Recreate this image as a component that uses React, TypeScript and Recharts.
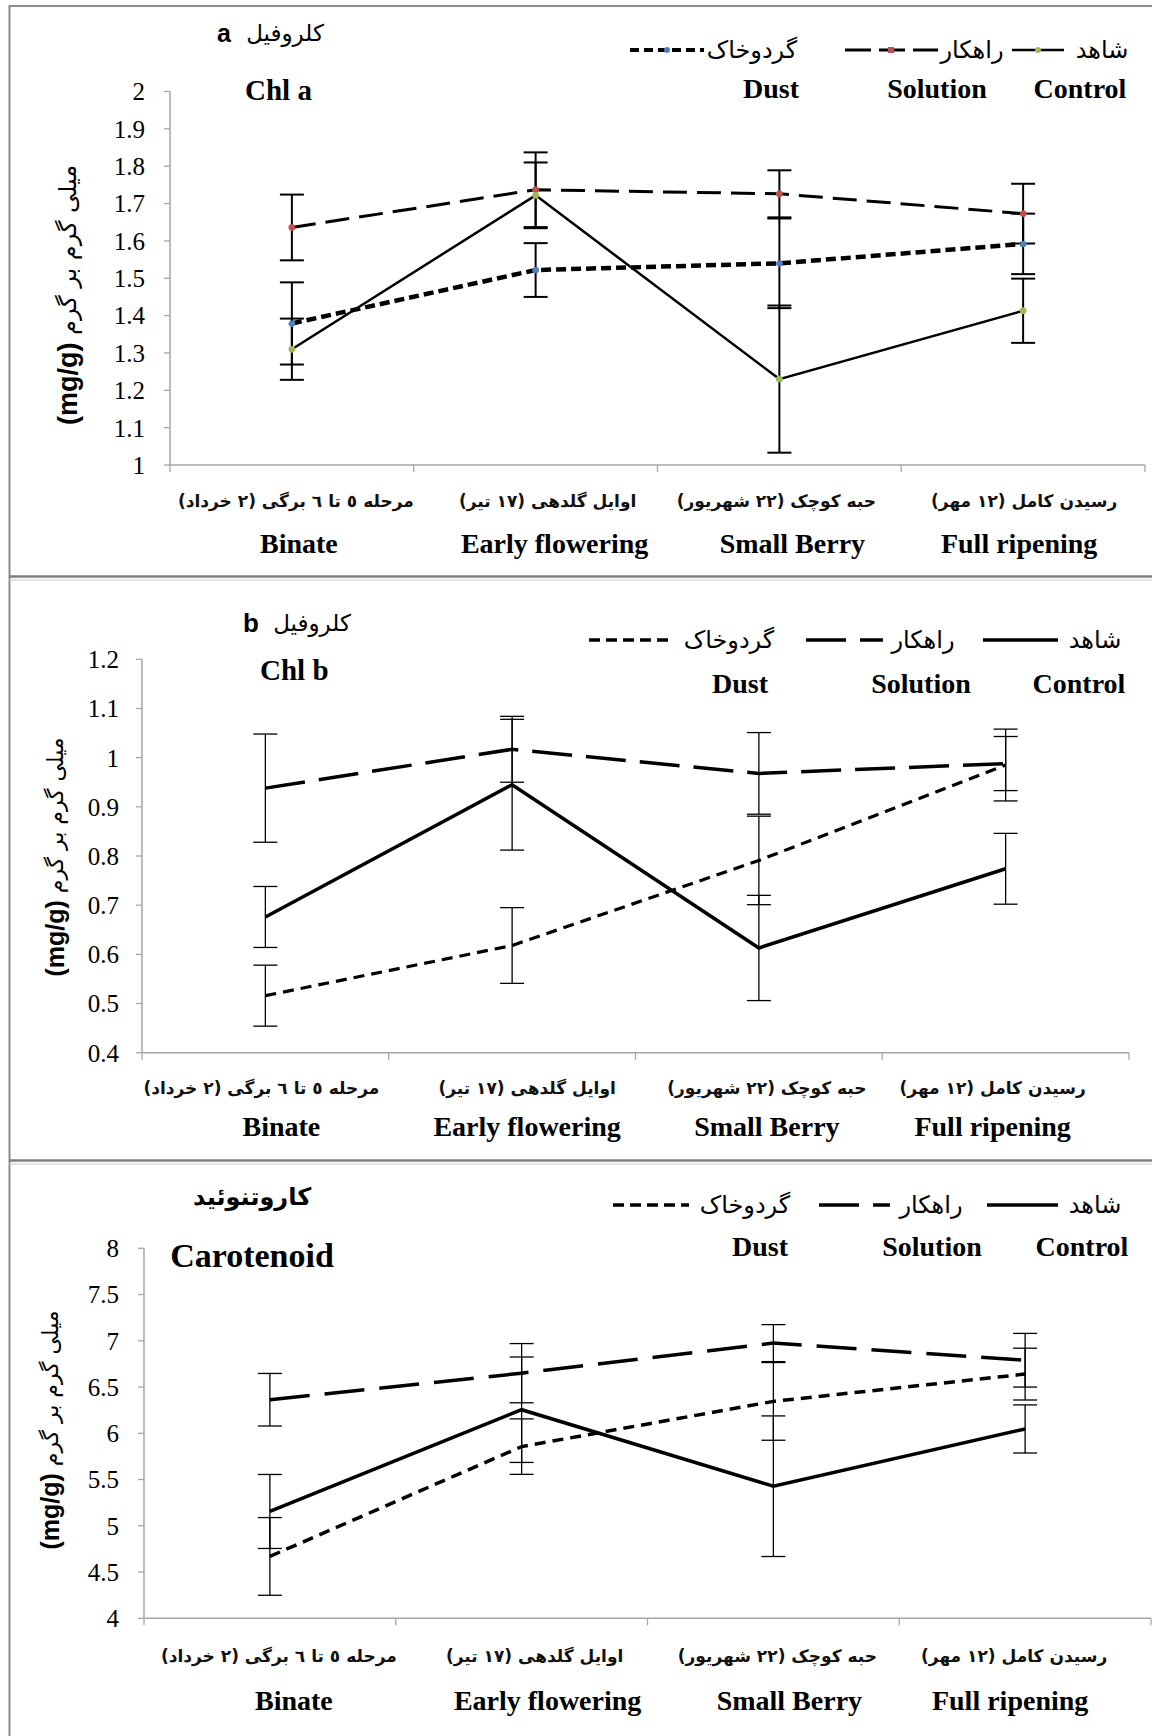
"use client";
import React from "react";
import { LineChart, Line, XAxis, YAxis, ErrorBar } from "recharts";

const stagesEn = ["Binate", "Early flowering", "Small Berry", "Full ripening"];
const stagesFa = [
  "مرحله ٥ تا ٦ برگی (٢ خرداد)",
  "اوایل گلدهی (١٧ تیر)",
  "حبه کوچک (٢٢ شهریور)",
  "رسیدن کامل (١٢ مهر)",
];

// Chl a (mg/g)
const chlAControl = [1.31, 1.722, 1.23, 1.413];
const chlAControlErr = [0.082, 0.088, 0.197, 0.086];
const chlASolution = [1.636, 1.737, 1.726, 1.673];
const chlASolutionErr = [0.088, 0.1, 0.063, 0.08];
const chlADust = [1.379, 1.522, 1.54, 1.592];
const chlADustErr = [0.11, 0.072, 0.12, 0.081];
const chlATicks = [1, 1.1, 1.2, 1.3, 1.4, 1.5, 1.6, 1.7, 1.8, 1.9, 2];

// Chl b (mg/g)
const chlBControl = [0.676, 0.945, 0.613, 0.774];
const chlBControlErr = [0.062, 0.133, 0.107, 0.072];
const chlBSolution = [0.938, 1.017, 0.968, 0.988];
const chlBSolutionErr = [0.11, 0.067, 0.083, 0.055];
const chlBDust = [0.516, 0.618, 0.791, 0.985];
const chlBDustErr = [0.062, 0.077, 0.09, 0.073];
const chlBTicks = [0.4, 0.5, 0.6, 0.7, 0.8, 0.9, 1, 1.1, 1.2];

// Carotenoid (mg/g)
const carControl = [5.155, 6.255, 5.428, 6.047];
const carControlErr = [0.4, 0.57, 0.76, 0.26];
const carSolution = [6.363, 6.65, 6.975, 6.79];
const carSolutionErr = [0.284, 0.32, 0.2, 0.29];
const carDust = [4.669, 5.856, 6.345, 6.64];
const carDustErr = [0.42, 0.3, 0.42, 0.28];
const carTicks = [4, 4.5, 5, 5.5, 6, 6.5, 7, 7.5, 8];

const legendFa = ["شاهد", "راهکار", "گردوخاک"];
const legendEn = ["Control", "Solution", "Dust"];
const yTitleFa = "میلی گرم بر گرم ";

const SERIF = "'Liberation Serif', 'Times New Roman', serif";
const FA = "'DejaVu Sans', sans-serif";
const SANS = "'Liberation Sans', Arial, sans-serif";
const AXIS = "#a6a6a6";
const GREEN = "#9bbb59";
const RED = "#c0504d";
const BLUE = "#4f81bd";

const makeRows = (c: number[], ce: number[], s: number[], se: number[], d: number[], de: number[]) =>
  stagesEn.map((stage, i) => ({
    stage,
    control: c[i],
    controlErr: ce[i],
    solution: s[i],
    solutionErr: se[i],
    dust: d[i],
    dustErr: de[i],
  }));

const rowsA = makeRows(chlAControl, chlAControlErr, chlASolution, chlASolutionErr, chlADust, chlADustErr);
const rowsB = makeRows(chlBControl, chlBControlErr, chlBSolution, chlBSolutionErr, chlBDust, chlBDustErr);
const rowsC = makeRows(carControl, carControlErr, carSolution, carSolutionErr, carDust, carDustErr);

// labels in the source sit a little off the band centres
const makeXTick = (band: number, faDy: number, enDy: number, faDx: number[], enDx: number[]) => (props: any) => {
  const { x, y, payload } = props;
  const i = stagesEn.indexOf(payload.value);
  return (
    <g>
      <line x1={x - band / 2} x2={x - band / 2} y1={y} y2={y + 7} stroke={AXIS} strokeWidth={1.3} />
      {i === stagesEn.length - 1 && (
        <line x1={x + band / 2} x2={x + band / 2} y1={y} y2={y + 7} stroke={AXIS} strokeWidth={1.3} />
      )}
      <text
        x={x + faDx[i]}
        y={y + faDy}
        textAnchor="middle"
        dominantBaseline="central"
        style={{ direction: "rtl" }}
        fontFamily={FA}
        fontWeight="bold"
        fontSize={17}
        fill="#111"
      >
        {stagesFa[i]}
      </text>
      <text
        x={x + enDx[i]}
        y={y + enDy}
        textAnchor="middle"
        dominantBaseline="central"
        fontFamily={SERIF}
        fontWeight="bold"
        fontSize={28}
        fill="#000"
      >
        {payload.value}
      </text>
    </g>
  );
};

type Style = {
  control: number;
  solution: number;
  dust: number;
  solutionDash: string;
  dustDash: string;
  err: number;
};

type PanelProps = {
  top: number;
  height: number;
  rows: any[];
  left: number;
  right: number;
  plotTop: number;
  plotBottom: number;
  domain: [number, number];
  ticks: number[];
  tickGap: number;
  faDy: number;
  enDy: number;
  faDx: number[];
  enDx: number[];
  markers: boolean;
  st: Style;
  children?: React.ReactNode;
};

const Panel = (p: PanelProps) => {
  const W = 1152;
  const band = (p.right - p.left) / stagesEn.length;
  const xH = 100;
  const dot = (c: string) => (p.markers ? { r: 3, fill: c, stroke: c, strokeWidth: 1 } : false);
  return (
    <div style={{ position: "absolute", left: 0, top: p.top, width: W, height: p.height }}>
      <LineChart
        width={W}
        height={p.height}
        data={p.rows}
        margin={{ top: p.plotTop, right: W - p.right, left: 0, bottom: p.height - p.plotBottom - xH }}
      >
        <XAxis
          dataKey="stage"
          scale="band"
          interval={0}
          height={xH}
          tickLine={false}
          tickSize={0}
          tickMargin={0}
          axisLine={{ stroke: AXIS, strokeWidth: 1.5 }}
          tick={makeXTick(band, p.faDy, p.enDy, p.faDx, p.enDx)}
        />
        <YAxis
          width={p.left}
          domain={p.domain}
          ticks={p.ticks}
          interval={0}
          tickSize={6}
          tickMargin={p.tickGap}
          tickFormatter={(v: number) => String(v)}
          axisLine={{ stroke: AXIS, strokeWidth: 1.5 }}
          tickLine={{ stroke: AXIS, strokeWidth: 1.3 }}
          tick={{ fontFamily: SERIF, fontSize: 25, fill: "#000" }}
        />
        <Line
          dataKey="dust"
          type="linear"
          stroke="#000"
          strokeWidth={p.st.dust}
          strokeDasharray={p.st.dustDash}
          dot={dot(BLUE)}
          activeDot={false}
          isAnimationActive={false}
        >
          <ErrorBar dataKey="dustErr" width={12} stroke="#000" strokeWidth={p.st.err} direction="y" isAnimationActive={false} />
        </Line>
        <Line
          dataKey="solution"
          type="linear"
          stroke="#000"
          strokeWidth={p.st.solution}
          strokeDasharray={p.st.solutionDash}
          dot={dot(RED)}
          activeDot={false}
          isAnimationActive={false}
        >
          <ErrorBar dataKey="solutionErr" width={12} stroke="#000" strokeWidth={p.st.err} direction="y" isAnimationActive={false} />
        </Line>
        <Line
          dataKey="control"
          type="linear"
          stroke="#000"
          strokeWidth={p.st.control}
          dot={dot(GREEN)}
          activeDot={false}
          isAnimationActive={false}
        >
          <ErrorBar dataKey="controlErr" width={12} stroke="#000" strokeWidth={p.st.err} direction="y" isAnimationActive={false} />
        </Line>
      </LineChart>
      <svg
        width={W}
        height={p.height}
        style={{ position: "absolute", left: 0, top: 0, pointerEvents: "none" }}
      >
        {p.children}
      </svg>
    </div>
  );
};

type LegendItem = { x1: number; x2: number; cx: number; ex: number; dash?: string; w: number; marker?: string; mx?: number; square?: boolean };

const Legend = ({ items, y, ey, faSize }: { items: LegendItem[]; y: number; ey: number; faSize: number }) => (
  <g>
    {items.map((it, i) => (
      <g key={i}>
        <line x1={it.x1} x2={it.x2} y1={y} y2={y} stroke="#000" strokeWidth={it.w} strokeDasharray={it.dash} />
        {it.marker &&
          (it.square ? (
            <rect x={(it.mx as number) - 3} y={y - 3} width={6} height={6} fill={it.marker} />
          ) : (
            <circle cx={it.mx} cy={y} r={3} fill={it.marker} />
          ))}
        <text
          x={it.cx}
          y={y}
          textAnchor="middle"
          dominantBaseline="central"
          style={{ direction: "rtl" }}
          fontFamily={FA}
          fontSize={faSize}
          fill="#000"
        >
          {legendFa[i]}
        </text>
        <text
          x={it.ex}
          y={ey}
          textAnchor="middle"
          dominantBaseline="central"
          fontFamily={SERIF}
          fontWeight="bold"
          fontSize={28}
          fill="#000"
        >
          {legendEn[i]}
        </text>
      </g>
    ))}
  </g>
);

const YTitle = ({ x, y, size }: { x: number; y: number; size: number }) => (
  <text
    x={x}
    y={y}
    transform={`rotate(-90 ${x} ${y})`}
    textAnchor="middle"
    dominantBaseline="central"
    style={{ direction: "rtl" }}
    fontFamily={FA}
    fontSize={size}
    fill="#000"
  >
    {yTitleFa}
    <tspan fontFamily={SANS} fontWeight="bold" fontSize={size + 3}>
      (mg/g)
    </tspan>
  </text>
);

const styleA: Style = { control: 2.5, solution: 3, dust: 4.5, solutionDash: "24 10", dustDash: "10 5", err: 2 };
const styleB: Style = { control: 3.5, solution: 3.5, dust: 3.2, solutionDash: "40 14", dustDash: "11 7", err: 1.3 };
const styleC: Style = { control: 3.5, solution: 3.5, dust: 3.5, solutionDash: "40 15", dustDash: "11 7", err: 1.3 };

export default function App() {
  return (
    <div style={{ position: "relative", width: 1152, height: 1736, background: "#fff", overflow: "hidden" }}>
      <style>{`body{margin:0;background:#fff}`}</style>

      <Panel
        top={0}
        height={577}
        rows={rowsA}
        left={170}
        right={1145}
        plotTop={91.5}
        plotBottom={465}
        domain={[1, 2]}
        ticks={chlATicks}
        tickGap={19}
        faDy={36}
        enDy={78}
        faDx={[4, 12, -3, 1]}
        enDx={[7, 19, 13, -4]}
        markers={true}
        st={styleA}
      >
        <text x={224} y={33} textAnchor="middle" dominantBaseline="central" fontFamily={SANS} fontWeight="bold" fontSize={25}>
          a
        </text>
        <text x={285} y={33} textAnchor="middle" dominantBaseline="central" style={{ direction: "rtl" }} fontFamily={FA} fontSize={23}>
          کلروفیل
        </text>
        <text x={245} y={90} dominantBaseline="central" fontFamily={SERIF} fontWeight="bold" fontSize={29}>
          Chl a
        </text>
        <Legend
          y={50}
          ey={88}
          faSize={24}
          items={[
            { x1: 1012, x2: 1064, cx: 1102, ex: 1080, w: 2.5, marker: GREEN, mx: 1038 },
            { x1: 845, x2: 938, cx: 972, ex: 937, w: 3, dash: "26 8", marker: RED, mx: 891, square: true },
            { x1: 630, x2: 704, cx: 752, ex: 771, w: 4, dash: "9 5", marker: BLUE, mx: 667 },
          ]}
        />
        <YTitle x={68} y={295} size={24} />
      </Panel>

      <Panel
        top={580}
        height={581}
        rows={rowsB}
        left={142}
        right={1129}
        plotTop={79.3}
        plotBottom={472.7}
        domain={[0.4, 1.2]}
        ticks={chlBTicks}
        tickGap={17}
        faDy={35}
        enDy={74}
        faDx={[-4, 15, 8, -13]}
        enDx={[16, 15, 8, -13]}
        markers={false}
        st={styleB}
      >
        <text x={251} y={43} textAnchor="middle" dominantBaseline="central" fontFamily={SANS} fontWeight="bold" fontSize={26}>
          b
        </text>
        <text x={312} y={43} textAnchor="middle" dominantBaseline="central" style={{ direction: "rtl" }} fontFamily={FA} fontSize={23}>
          کلروفیل
        </text>
        <text x={260} y={90} dominantBaseline="central" fontFamily={SERIF} fontWeight="bold" fontSize={29}>
          Chl b
        </text>
        <Legend
          y={60}
          ey={103}
          faSize={24}
          items={[
            { x1: 983, x2: 1058, cx: 1095, ex: 1079, w: 3.5 },
            { x1: 806, x2: 883, cx: 923, ex: 921, w: 3.5, dash: "40 14" },
            { x1: 589, x2: 669, cx: 729, ex: 740, w: 3.5, dash: "11 6" },
          ]}
        />
        <YTitle x={55} y={277} size={22} />
      </Panel>

      <Panel
        top={1164}
        height={572}
        rows={rowsC}
        left={144}
        right={1151}
        plotTop={84.3}
        plotBottom={454.3}
        domain={[4, 8]}
        ticks={carTicks}
        tickGap={19}
        faDy={38}
        enDy={82}
        faDx={[9, 13, 4, -11]}
        enDx={[24, 26, 16, -15]}
        markers={false}
        st={styleC}
      >
        <text x={252} y={33} textAnchor="middle" dominantBaseline="central" style={{ direction: "rtl" }} fontFamily={FA} fontWeight="bold" fontSize={24}>
          کاروتنوئید
        </text>
        <text x={252} y={91} textAnchor="middle" dominantBaseline="central" fontFamily={SERIF} fontWeight="bold" fontSize={34}>
          Carotenoid
        </text>
        <Legend
          y={41}
          ey={82}
          faSize={24}
          items={[
            { x1: 987, x2: 1058, cx: 1095, ex: 1082, w: 3.5 },
            { x1: 819, x2: 890, cx: 931, ex: 932, w: 3.5, dash: "40 14" },
            { x1: 613, x2: 689, cx: 745, ex: 760, w: 3.5, dash: "11 6" },
          ]}
        />
        <YTitle x={50} y={266} size={22} />
      </Panel>

      {/* frame */}
      <svg width={1152} height={1736} style={{ position: "absolute", left: 0, top: 0, pointerEvents: "none" }}>
        <line x1={9.5} x2={9.5} y1={5} y2={1736} stroke="#8c8c8c" strokeWidth={2} />
        <line x1={9} x2={1152} y1={6} y2={6} stroke="#8c8c8c" strokeWidth={2} />
        <line x1={9} x2={1152} y1={576.5} y2={576.5} stroke="#7f7f7f" strokeWidth={2.5} />
        <line x1={9} x2={1152} y1={580} y2={580} stroke="#c8c8c8" strokeWidth={1} />
        <line x1={9} x2={1152} y1={1160.5} y2={1160.5} stroke="#7f7f7f" strokeWidth={2.5} />
        <line x1={9} x2={1152} y1={1164} y2={1164} stroke="#c8c8c8" strokeWidth={1} />
      </svg>
    </div>
  );
}
